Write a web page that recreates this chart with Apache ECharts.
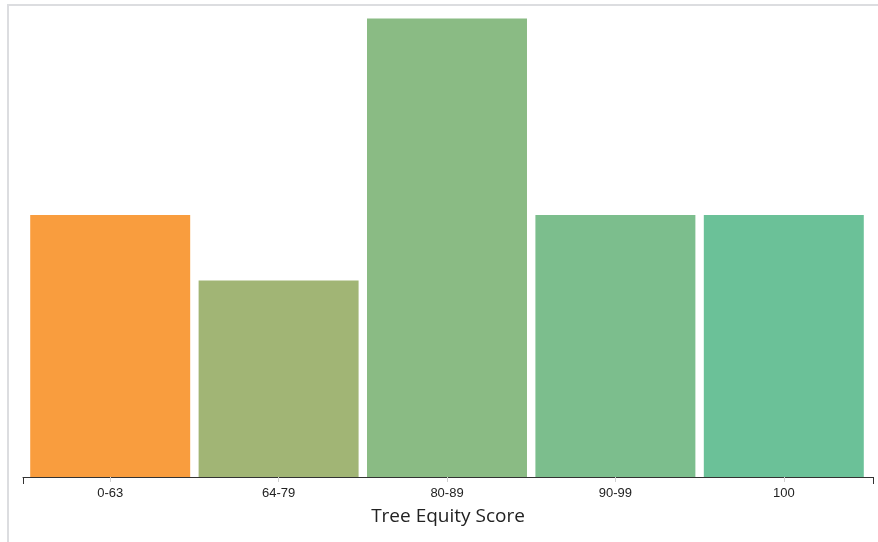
<!DOCTYPE html>
<html>
<head>
<meta charset="utf-8">
<script src="https://cdn.jsdelivr.net/npm/echarts@6/dist/echarts.min.js"></script>
<style>
  html, body { margin: 0; padding: 0; background: #fff; overflow: hidden; }
  #frame { position: absolute; left: 7px; top: 4px; width: 900px; height: 600px;
           border-left: 2px solid #dcdde0; border-top: 2px solid #dcdde0; }
  #chart { position: absolute; left: 0; top: 0; width: 878px; height: 542px; }
</style>
</head>
<body>
<div id="frame"></div>
<div id="chart"></div>
<script>
const categories = ['0-63', '64-79', '80-89', '90-99', '100'];
const counts = [4, 3, 7, 4, 4];
const barColors = ['#F99D3E', '#A1B575', '#8ABB84', '#7CBE8D', '#6BC198'];
const axisTitle = 'Tree Equity Score';

const chart = echarts.init(document.getElementById('chart'), null, { renderer: 'canvas' });
chart.setOption({
  animation: false,
  grid: [
    { left: 26, right: 10, top: 18.5, bottom: 65 },
    { left: 23, right: 5, top: 18.5, bottom: 65 }
  ],
  xAxis: [
    {
      type: 'category', gridIndex: 0, data: categories,
      axisLine: { show: false },
      axisTick: { show: true, alignWithLabel: true, length: 5, lineStyle: { color: '#d0d0d0', width: 1 } },
      axisLabel: { color: '#222', fontFamily: 'Liberation Sans, Arial, sans-serif', fontSize: 13, margin: 10 },
      splitLine: { show: false }
    },
    {
      type: 'value', gridIndex: 1, min: 0, max: 1, interval: 1,
      axisLine: { show: true, lineStyle: { color: '#333', width: 1 } },
      axisTick: { show: true, length: 7, lineStyle: { color: '#333', width: 1 } },
      axisLabel: { show: false },
      splitLine: { show: false },
      name: axisTitle, nameLocation: 'middle', nameGap: 30,
      nameTextStyle: { color: '#222', fontFamily: 'Open Sans', fontSize: 19 }
    }
  ],
  yAxis: [
    { type: 'value', gridIndex: 0, min: 0, max: 7, show: false },
    { type: 'value', gridIndex: 1, min: 0, max: 1, show: false }
  ],
  series: [
    {
      type: 'bar', xAxisIndex: 0, yAxisIndex: 0,
      barCategoryGap: '5%',
      data: counts.map((v, i) => ({ value: v, itemStyle: { color: barColors[i] } }))
    }
  ]
});
</script>
</body>
</html>
